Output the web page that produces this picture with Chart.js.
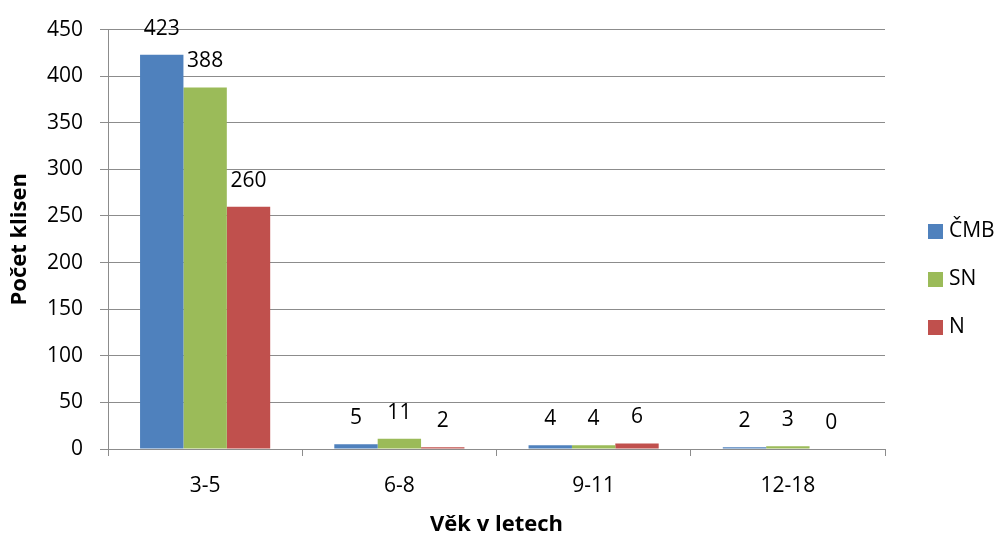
<!DOCTYPE html>
<html>
<head>
<meta charset="utf-8">
<script src="https://cdn.jsdelivr.net/npm/chart.js@4.4.1/dist/chart.umd.min.js"></script>
<style>
  html, body { margin: 0; padding: 0; background: #ffffff; }
  #wrap { width: 1001px; height: 533px; position: relative; }
</style>
</head>
<body>
<div id="wrap"><canvas id="c" width="1001" height="533"></canvas></div>
<script>
// Age groups (years) and counts of mares per breed
const categories = ['3-5', '6-8', '9-11', '12-18'];
const seriesNames = ['ČMB', 'SN', 'N'];
const cmbValues = [423, 5, 4, 2];
const snValues = [388, 11, 4, 3];
const nValues = [260, 2, 6, 0];
const yTicks = [0, 50, 100, 150, 200, 250, 300, 350, 400, 450];

const colors = ['#4F81BD', '#9BBB59', '#C0504D'];
const FONT = '"Open Sans", Lato, sans-serif';
const gridColor = '#8c8c8c';

// Value labels drawn above each bar
const valueLabels = {
  id: 'valueLabels',
  afterDatasetsDraw(chart) {
    const ctx = chart.ctx;
    ctx.save();
    ctx.font = '21px ' + FONT;
    ctx.fillStyle = '#000';
    ctx.textAlign = 'center';
    ctx.textBaseline = 'middle';
    chart.data.datasets.forEach((ds, di) => {
      const meta = chart.getDatasetMeta(di);
      meta.data.forEach((bar, i) => {
        ctx.fillText(String(ds.data[i]), bar.x, bar.y - 26);
      });
    });
    ctx.restore();
  }
};

// Legend at the right: square swatch followed by the series name
const sideLegend = {
  id: 'sideLegend',
  afterDraw(chart) {
    const ctx = chart.ctx;
    ctx.save();
    ctx.font = '21px ' + FONT;
    ctx.textAlign = 'left';
    ctx.textBaseline = 'middle';
    const x0 = 928, yc = 231.5, step = 48, box = 15;
    chart.data.datasets.forEach((ds, i) => {
      const y = yc + i * step;
      ctx.fillStyle = ds.backgroundColor;
      ctx.fillRect(x0, y - box / 2, box, box);
      ctx.fillStyle = '#000';
      ctx.fillText(ds.label, x0 + 21, y);
    });
    ctx.restore();
  }
};

const seriesValues = [cmbValues, snValues, nValues];

new Chart(document.getElementById('c'), {
  type: 'bar',
  data: {
    labels: categories,
    datasets: seriesNames.map((name, i) => ({
      label: name,
      data: seriesValues[i],
      backgroundColor: colors[i],
      borderWidth: 0,
      barPercentage: 1.0,
      categoryPercentage: 0.67
    }))
  },
  options: {
    responsive: false,
    animation: false,
    devicePixelRatio: 1,
    layout: { padding: { left: 0, top: 26, right: 116, bottom: 0 } },
    plugins: {
      legend: { display: false },
      tooltip: { enabled: false }
    },
    scales: {
      x: {
        grid: {
          display: true,
          drawOnChartArea: false,
          drawTicks: true,
          tickLength: 7,
          color: gridColor,
          offset: true
        },
        border: { display: true, color: gridColor, width: 1 },
        ticks: {
          color: '#000',
          font: { family: FONT, size: 21 },
          padding: 17
        },
        title: {
          display: true,
          text: 'Věk v letech',
          color: '#000',
          font: { family: FONT, size: 22, weight: 'bold' },
          padding: { top: 0, bottom: -5 }
        },
        afterFit(scale) { scale.height = 84; }
      },
      y: {
        min: 0,
        max: 450,
        afterBuildTicks(scale) { scale.ticks = yTicks.map(v => ({ value: v })); },
        grid: {
          color: gridColor,
          lineWidth: 1,
          drawTicks: true,
          tickLength: 8
        },
        border: { display: true, color: gridColor, width: 1 },
        ticks: {
          color: '#000',
          font: { family: FONT, size: 21 },
          padding: 17
        },
        title: {
          display: true,
          text: 'Počet klisen',
          color: '#000',
          font: { family: FONT, size: 22, weight: 'bold' },
          padding: { top: 7, bottom: 0 }
        },
        afterFit(scale) { scale.width = 108; }
      }
    }
  },
  plugins: [valueLabels, sideLegend]
});
</script>
</body>
</html>
